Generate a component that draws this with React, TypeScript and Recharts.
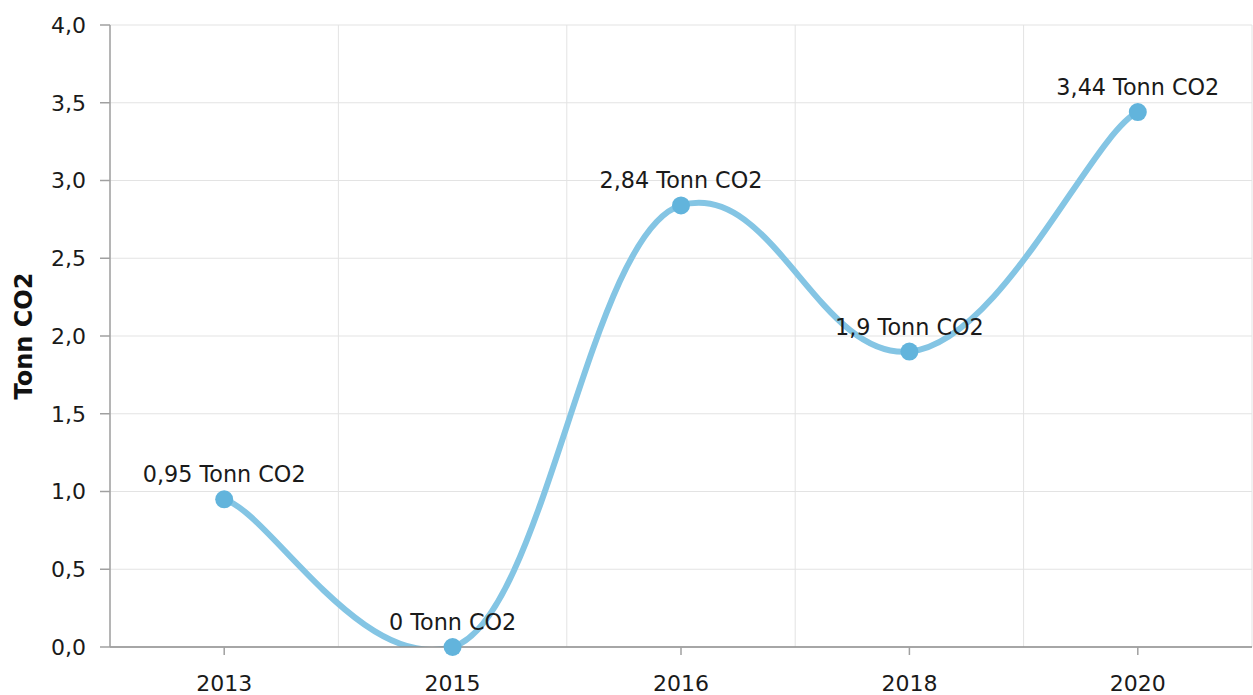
import React from 'react';
import { LineChart, Line, XAxis, YAxis, CartesianGrid, LabelList } from 'recharts';

const years = ['2013', '2015', '2016', '2018', '2020'];
const co2Values = [0.95, 0, 2.84, 1.9, 3.44];
const yTicks = [0, 0.5, 1, 1.5, 2, 2.5, 3, 3.5, 4];
const unitLabel = 'Tonn CO2';

const data = years.map((y, i) => ({ year: y, value: co2Values[i] }));

// tension-style smoothing: separate horizontal / vertical control factors
const KX = 0.2;
const KY = 0.09;
const tensionCurve = (context: any) => {
  let pts: number[][] = [];
  return {
    areaStart() {},
    areaEnd() {},
    lineStart() {
      pts = [];
    },
    point(x: number, y: number) {
      pts.push([+x, +y]);
    },
    lineEnd() {
      if (!pts.length) return;
      context.moveTo(pts[0][0], pts[0][1]);
      for (let i = 0; i < pts.length - 1; i++) {
        const p0 = pts[i - 1] || pts[i];
        const p1 = pts[i];
        const p2 = pts[i + 1];
        const p3 = pts[i + 2] || pts[i + 1];
        context.bezierCurveTo(
          p1[0] + (p2[0] - p0[0]) * KX,
          p1[1] + (p2[1] - p0[1]) * KY,
          p2[0] - (p3[0] - p1[0]) * KX,
          p2[1] - (p3[1] - p1[1]) * KY,
          p2[0],
          p2[1]
        );
      }
    },
  };
};

const fmtNum = (v: number) => String(v).replace('.', ',');
const fmtTick = (v: number) => v.toFixed(1).replace('.', ',');
const FONT = 'Verdana, "DejaVu Sans", sans-serif';

export default function App() {
  return (
    <div style={{ position: 'absolute', left: 0, top: 0, width: 1253, height: 695, background: '#fff' }}>
      <LineChart
        width={1253}
        height={695}
        data={data}
        margin={{ top: 25, right: 1, bottom: 0, left: 30 }}
        style={{ fontFamily: FONT }}
      >
        <CartesianGrid
          stroke="#e3e3e3"
          strokeWidth={1}
          verticalCoordinatesGenerator={(props: any) => {
            const off = props.offset;
            return years.map((_, i) => off.left + ((i + 1) * off.width) / years.length).concat([off.left]);
          }}
        />
        <XAxis
          dataKey="year"
          scale="band"
          height={48}
          axisLine={{ stroke: '#8c8c8c', strokeWidth: 1.5 }}
          tickLine={{ stroke: '#a0a0a0', strokeWidth: 1.5 }}
          tickSize={8}
          tickMargin={20}
          tick={{ fill: '#1a1a1a', fontSize: 22, fontFamily: FONT }}
        />
        <YAxis
          width={80}
          domain={[0, 4]}
          ticks={yTicks}
          allowDataOverflow
          tickFormatter={fmtTick}
          axisLine={{ stroke: '#a0a0a0', strokeWidth: 1.5 }}
          tickLine={{ stroke: '#a0a0a0', strokeWidth: 1.5 }}
          tickSize={10}
          tickMargin={14}
          tick={{ fill: '#1a1a1a', fontSize: 22, fontFamily: FONT }}
        />
        <Line
          type={tensionCurve as any}
          dataKey="value"
          stroke="#84c5e4"
          strokeWidth={6}
          isAnimationActive={false}
          dot={{ r: 9, fill: '#62b4dc', stroke: 'none', clipDot: false } as any}
          activeDot={false}
        >
          <LabelList
            dataKey="value"
            position="top"
            offset={17}
            formatter={(v: any) => `${fmtNum(v)} ${unitLabel}`}
            style={{ fill: '#1a1a1a', fontSize: 22.3, fontFamily: FONT }}
          />
        </Line>
      </LineChart>
      <div
        style={{
          position: 'absolute',
          left: 24,
          top: 336,
          transform: 'translate(-50%, -50%) rotate(-90deg)',
          fontFamily: FONT,
          fontWeight: 'bold',
          fontSize: 24,
          color: '#111',
          whiteSpace: 'nowrap',
        }}
      >
        {unitLabel}
      </div>
    </div>
  );
}
